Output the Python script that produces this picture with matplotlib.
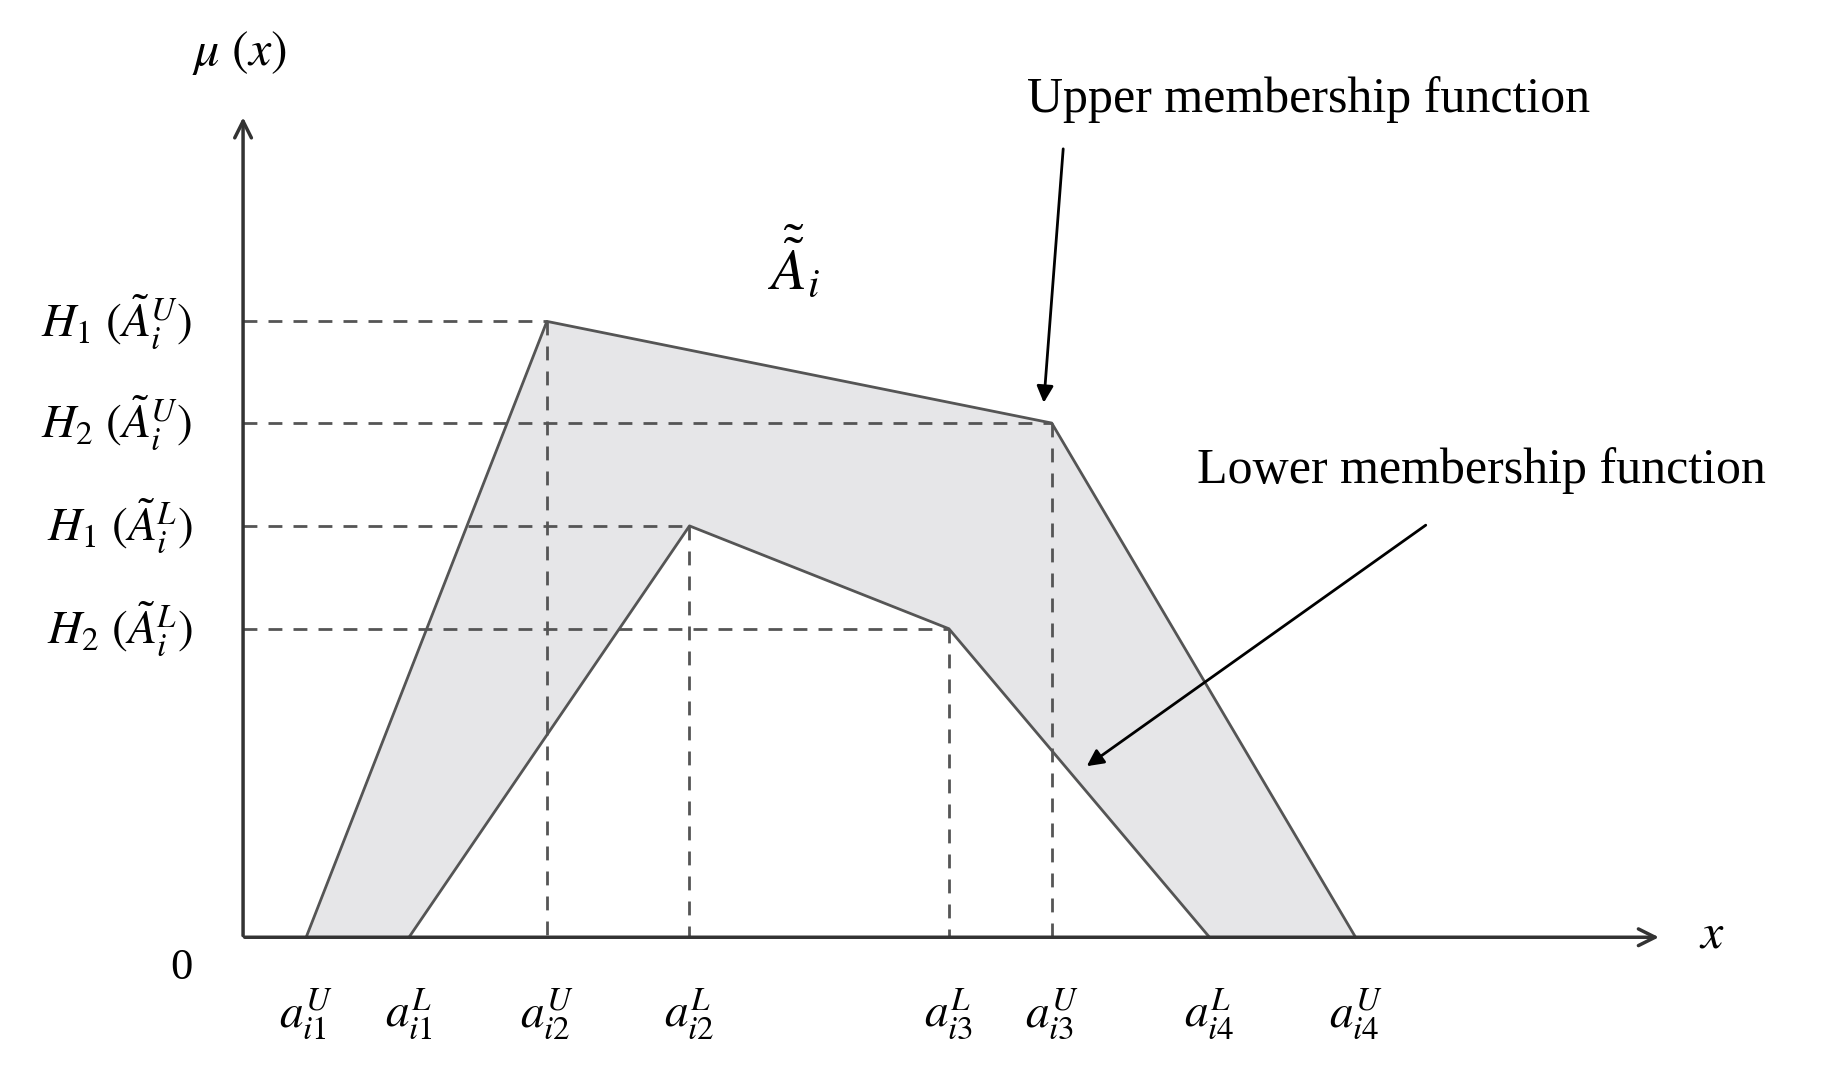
import matplotlib
matplotlib.use("Agg")
import matplotlib.pyplot as plt

plt.rcParams['mathtext.fontset'] = 'stix'
plt.rcParams['font.family'] = ['Liberation Serif', 'DejaVu Serif']

upper_x = [262, 468, 900, 1160]
upper_y = [802, 275, 362, 802]
lower_x = [350, 590, 812, 1035]
lower_y = [802, 450, 538, 802]
y_labels = [r'$H_1\ (\tilde{A}_i^U)$', r'$H_2\ (\tilde{A}_i^U)$',
            r'$H_1\ (\tilde{A}_i^L)$', r'$H_2\ (\tilde{A}_i^L)$']
y_label_pos = [275, 362, 450, 538]
x_labels = [r'$a_{i1}^U$', r'$a_{i1}^L$', r'$a_{i2}^U$', r'$a_{i2}^L$',
            r'$a_{i3}^L$', r'$a_{i3}^U$', r'$a_{i4}^L$', r'$a_{i4}^U$']
x_label_pos = [262, 350, 468, 590, 812, 900, 1035, 1160]

fig = plt.figure(figsize=(18.23, 10.81), dpi=100)
ax = fig.add_axes([0, 0, 1, 1])
ax.set_xlim(0, 1560)
ax.set_ylim(925, 0)
ax.axis('off')

ox, oy = 208, 802
poly_x = upper_x + lower_x[::-1]
poly_y = upper_y + lower_y[::-1]
ax.fill(poly_x, poly_y, color='#e6e6e8', zorder=1)
ax.plot(upper_x, upper_y, color='#555555', lw=2, zorder=3)
ax.plot(lower_x, lower_y, color='#555555', lw=2, zorder=3)

dash = dict(color='#555555', lw=2, ls=(0, (5, 4)), zorder=2)
for xs, ys in [(upper_x, upper_y), (lower_x, lower_y)]:
    for px, py in zip(xs[1:3], ys[1:3]):
        ax.plot([ox, px], [py, py], **dash)
        ax.plot([px, px], [py, oy], **dash)

ax.annotate('', xy=(1422, oy), xytext=(ox - 1, oy),
            arrowprops=dict(arrowstyle='->', color='#333333', lw=2.5, mutation_scale=30))
ax.annotate('', xy=(ox, 98), xytext=(ox, oy + 1),
            arrowprops=dict(arrowstyle='->', color='#333333', lw=2.5, mutation_scale=30))

for lab, y in zip(y_labels, y_label_pos):
    ax.text(165, y, lab, ha='right', va='center', fontsize=34)
for lab, x in zip(x_labels, x_label_pos):
    ax.text(x, 868, lab, ha='center', va='center', fontsize=34)
ax.text(155, 828, '0', ha='center', va='center', fontsize=32)
ax.text(205, 45, r'$\mu\ (x)$', ha='center', va='center', fontsize=36)
ax.text(1465, 800, r'$x$', ha='center', va='center', fontsize=36)
ax.text(680, 225, r'$\tilde{\tilde{A}}_i$', ha='center', va='center', fontsize=42)

ax.text(1120, 85, 'Upper membership function', ha='center', va='center', fontsize=36)
ax.annotate('', xy=(893, 347), xytext=(910, 125),
            arrowprops=dict(arrowstyle='-|>', color='black', lw=2, mutation_scale=25))
ax.text(1268, 403, 'Lower membership function', ha='center', va='center', fontsize=36)
ax.annotate('', xy=(928, 657), xytext=(1222, 448),
            arrowprops=dict(arrowstyle='-|>', color='black', lw=2, mutation_scale=25))

fig.savefig('out.png', dpi=100)
